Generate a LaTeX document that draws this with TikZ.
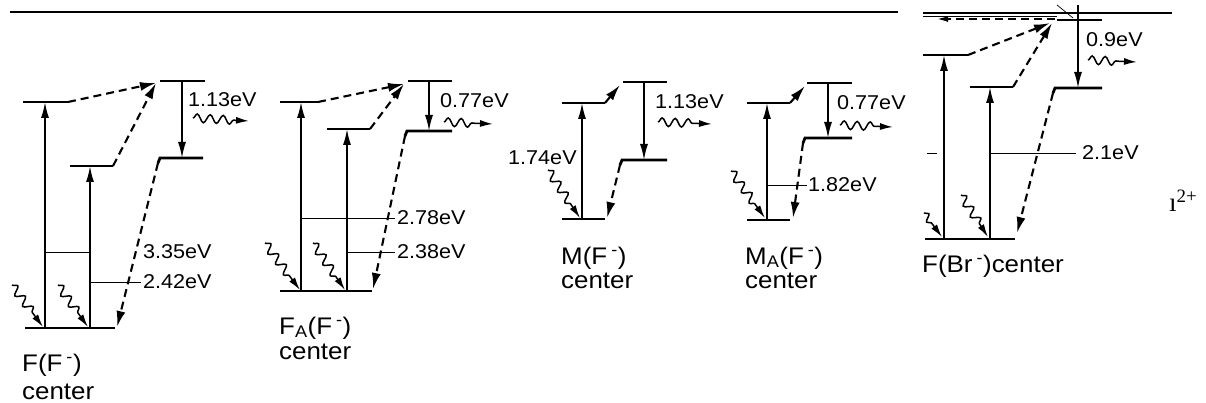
\documentclass[tikz,border=0pt]{standalone}
\usepackage{fontspec}
\setmainfont{Liberation Sans}[FakeStretch=1.08]
\newfontfamily\seriffont{Liberation Serif}
\usetikzlibrary{arrows.meta,decorations.pathmorphing}
\begin{document}
\begin{tikzpicture}[x=1pt,y=-1pt,
 level/.style={line width=2.8pt},
 uparrow/.style={line width=1.6pt,-{Latex[length=16pt,width=8pt]}},
 dasharrow/.style={line width=2.1pt,dash pattern=on 8pt off 5pt,-{Latex[length=16pt,width=9pt]}},
 photon/.style={line width=1.5pt,-{Latex[length=13pt,width=7pt]},decorate,
   decoration={snake,amplitude=4.2pt,segment length=13pt,post length=15pt}},
 leader/.style={line width=0.7pt},
 toprule/.style={line width=1.4pt},
 ev/.style={font=\fontsize{20}{23}\selectfont,inner sep=0pt,anchor=west},
 cname/.style={font=\fontsize{24}{27}\selectfont,inner sep=0pt,anchor=west},
]
\useasboundingbox (0,0) rectangle (1206,403);

% ---------- top rules ----------
\coordinate (r1a) at (10,12);   \coordinate (r1b) at (898,12);
\coordinate (r2a) at (923,13);  \coordinate (r2b) at (1172,13);
\coordinate (r3a) at (923,16);  \coordinate (r3b) at (1057,16);
\draw[toprule] (r1a) -- (r1b);
\draw[toprule] (r2a) -- (r2b);
\draw[leader] (r3a) -- (r3b);

% ---------- diagram 1: F(F-) ----------
\coordinate (aU1) at (23,102);  \coordinate (aU2) at (68,102);
\coordinate (aM1) at (70,166);  \coordinate (aM2) at (113,166);
\coordinate (aT1) at (160,81);  \coordinate (aT2) at (205,81);
\coordinate (aL1) at (160,158); \coordinate (aL2) at (203,158); \coordinate (aLk) at (158,163);
\coordinate (aB1) at (25,328);  \coordinate (aB2) at (115,328);
\coordinate (aTip) at (156,83); \coordinate (aBtip) at (117,327);
\coordinate (aV1b) at (45,328); \coordinate (aV1t) at (45,102);
\coordinate (aV2b) at (90,328); \coordinate (aV2t) at (90,166);
\coordinate (aDt) at (182,81);  \coordinate (aDb) at (182,158);
\coordinate (aH1a) at (45,252); \coordinate (aH1b) at (90,252);
\coordinate (aH2a) at (90,282);
\coordinate (aP1a) at (12,285); \coordinate (aP1b) at (43,327);
\coordinate (aP2a) at (58,285); \coordinate (aP2b) at (88,327);
\coordinate (aEa) at (193,118); \coordinate (aEb) at (249,121);
\draw[level] (aU1) -- (aU2);
\draw[level] (aM1) -- (aM2);
\draw[level] (aT1) -- (aT2);
\draw[level] (aL2) -- (aL1) -- (aLk);
\draw[level] (aB1) -- (aB2);
\draw[dasharrow] (aU2) -- (aTip);
\draw[dasharrow] (aM2) -- (aTip);
\draw[dasharrow] (aLk) -- (aBtip);
\draw[uparrow] (aV1b) -- (aV1t);
\draw[uparrow] (aV2b) -- (aV2t);
\draw[uparrow] (aDt) -- (aDb);
\node[ev] (l335) at (143,252) {3.35eV};
\node[ev] (l242) at (143,282) {2.42eV};
\node[ev] (l113a) at (188,100) {1.13eV};
\draw[leader] (aH1a) -- (aH1b);
\draw[leader] (aH2a) -- ([xshift=-2pt]l242.west);
\draw[photon] (aP1a) -- (aP1b);
\draw[photon] (aP2a) -- (aP2b);
\draw[photon] (aEa) -- (aEb);
\node[cname] (nA) at (22,365) {F(F\,\textsuperscript{-})};
\node[cname] (cA) at (22,392) {center};

% ---------- diagram 2: FA(F-) ----------
\coordinate (bU1) at (280,102); \coordinate (bU2) at (318,102);
\coordinate (bM1) at (327,129); \coordinate (bM2) at (370,129);
\coordinate (bT1) at (408,81);  \coordinate (bT2) at (452,81);
\coordinate (bL1) at (407,131); \coordinate (bL2) at (452,131); \coordinate (bLk) at (405,136);
\coordinate (bB1) at (280,291); \coordinate (bB2) at (372,291);
\coordinate (bTip) at (404,84); \coordinate (bBtip) at (373,289);
\coordinate (bV1b) at (301,291); \coordinate (bV1t) at (301,102);
\coordinate (bV2b) at (347,291); \coordinate (bV2t) at (347,129);
\coordinate (bDt) at (429,81);   \coordinate (bDb) at (429,131);
\coordinate (bH1a) at (301,218);
\coordinate (bH2a) at (347,252);
\coordinate (bP1a) at (265,243); \coordinate (bP1b) at (300,290);
\coordinate (bP2a) at (313,243); \coordinate (bP2b) at (345,290);
\coordinate (bEa) at (444,122);  \coordinate (bEb) at (493,124);
\draw[level] (bU1) -- (bU2);
\draw[level] (bM1) -- (bM2);
\draw[level] (bT1) -- (bT2);
\draw[level] (bL2) -- (bL1) -- (bLk);
\draw[level] (bB1) -- (bB2);
\draw[dasharrow] (bU2) -- (bTip);
\draw[dasharrow] (bM2) -- (bTip);
\draw[dasharrow] (bLk) -- (bBtip);
\draw[uparrow] (bV1b) -- (bV1t);
\draw[uparrow] (bV2b) -- (bV2t);
\draw[uparrow] (bDt) -- (bDb);
\node[ev] (l278) at (397,218) {2.78eV};
\node[ev] (l238) at (397,252) {2.38eV};
\node[ev] (l077b) at (440,101) {0.77eV};
\draw[leader] (bH1a) -- ([xshift=-2pt]l278.west);
\draw[leader] (bH2a) -- ([xshift=-2pt]l238.west);
\draw[photon] (bP1a) -- (bP1b);
\draw[photon] (bP2a) -- (bP2b);
\draw[photon] (bEa) -- (bEb);
\node[cname] (nB) at (279,328) {F\textsubscript{A}(F\,\textsuperscript{-})};
\node[cname] (cB) at (279,352) {center};

% ---------- diagram 3: M(F-) ----------
\coordinate (cU1) at (562,103); \coordinate (cU2) at (605,103);
\coordinate (cT1) at (623,82);  \coordinate (cT2) at (667,82);
\coordinate (cL1) at (622,160); \coordinate (cL2) at (667,160); \coordinate (cLk) at (620,165);
\coordinate (cB1) at (562,219); \coordinate (cB2) at (605,219);
\coordinate (cTip) at (620,85); \coordinate (cBtip) at (607,218);
\coordinate (cVb) at (582,219); \coordinate (cVt) at (582,103);
\coordinate (cDt) at (644,82);  \coordinate (cDb) at (644,160);
\coordinate (cPa) at (548,170); \coordinate (cPb) at (580,218);
\coordinate (cEa) at (658,122); \coordinate (cEb) at (712,124);
\draw[level] (cU1) -- (cU2);
\draw[level] (cT1) -- (cT2);
\draw[level] (cL2) -- (cL1) -- (cLk);
\draw[level] (cB1) -- (cB2);
\draw[dasharrow] (cU2) -- (cTip);
\draw[dasharrow] (cLk) -- (cBtip);
\draw[uparrow] (cVb) -- (cVt);
\draw[uparrow] (cDt) -- (cDb);
\node[ev] (l174) at (508,158) {1.74eV};
\node[ev] (l113c) at (655,102) {1.13eV};
\draw[photon] (cPa) -- (cPb);
\draw[photon] (cEa) -- (cEb);
\node[cname] (nC) at (561,258) {M(F\,\textsuperscript{-})};
\node[cname] (cC) at (561,281) {center};

% ---------- diagram 4: MA(F-) ----------
\coordinate (dU1) at (747,103); \coordinate (dU2) at (790,103);
\coordinate (dT1) at (807,83);  \coordinate (dT2) at (852,83);
\coordinate (dL1) at (805,138); \coordinate (dL2) at (852,138); \coordinate (dLk) at (803,143);
\coordinate (dB1) at (747,220); \coordinate (dB2) at (790,220);
\coordinate (dTip) at (805,86); \coordinate (dBtip) at (793,218);
\coordinate (dVb) at (767,220); \coordinate (dVt) at (767,103);
\coordinate (dDt) at (828,83);  \coordinate (dDb) at (828,138);
\coordinate (dHa) at (767,185);
\coordinate (dPa) at (731,171); \coordinate (dPb) at (765,218);
\coordinate (dEa) at (840,125); \coordinate (dEb) at (893,127);
\draw[level] (dU1) -- (dU2);
\draw[level] (dT1) -- (dT2);
\draw[level] (dL2) -- (dL1) -- (dLk);
\draw[level] (dB1) -- (dB2);
\draw[dasharrow] (dU2) -- (dTip);
\draw[dasharrow] (dLk) -- (dBtip);
\draw[uparrow] (dVb) -- (dVt);
\draw[uparrow] (dDt) -- (dDb);
\node[ev] (l182) at (808,185) {1.82eV};
\node[ev] (l077d) at (837,103) {0.77eV};
\draw[leader] (dHa) -- ([xshift=-1pt]l182.west);
\draw[photon] (dPa) -- (dPb);
\draw[photon] (dEa) -- (dEb);
\node[cname] (nD) at (745,258) {M\textsubscript{A}(F\,\textsuperscript{-})};
\node[cname] (cD) at (745,281) {center};

% ---------- diagram 5: F(Br-) ----------
\coordinate (eT1) at (1057,20);  \coordinate (eT2) at (1102,20);
\coordinate (eU1) at (923,55);   \coordinate (eU2) at (968,55);
\coordinate (eM1) at (970,87);   \coordinate (eM2) at (1013,87);
\coordinate (eL1) at (1055,88);  \coordinate (eL2) at (1102,88); \coordinate (eLk) at (1053,93);
\coordinate (eB1) at (925,239);  \coordinate (eB2) at (1015,239);
\coordinate (eTipA) at (1050,23); \coordinate (eTipB) at (1052,23);
\coordinate (eBtip) at (1017,233);
\coordinate (eV1b) at (944,239); \coordinate (eV1t) at (944,55);
\coordinate (eV2b) at (990,239); \coordinate (eV2t) at (990,87);
\coordinate (eDt) at (1078,5);   \coordinate (eDb) at (1078,88);
\coordinate (eHa) at (990,153);
\coordinate (eSa) at (927,153);  \coordinate (eSb) at (937,153);
\coordinate (eXa) at (1057,5);   \coordinate (eXb) at (1073,18);
\coordinate (eRa) at (1055,19);  \coordinate (eRb) at (936,19);
\coordinate (eP1a) at (924,213); \coordinate (eP1b) at (942,237);
\coordinate (eP2a) at (961,195); \coordinate (eP2b) at (988,237);
\coordinate (eEa) at (1088,60);  \coordinate (eEb) at (1137,62);
\draw[level] (eT1) -- (eT2);
\draw[level] (eU1) -- (eU2);
\draw[level] (eM1) -- (eM2);
\draw[level] (eL2) -- (eL1) -- (eLk);
\draw[level] (eB1) -- (eB2);
\draw[dasharrow] (eU2) -- (eTipA);
\draw[dasharrow] (eM2) -- (eTipB);
\draw[dasharrow] (eLk) -- (eBtip);
\draw[dasharrow,-{Latex[length=12pt,width=6pt]}] (eRa) -- (eRb);
\draw[uparrow] (eV1b) -- (eV1t);
\draw[uparrow] (eV2b) -- (eV2t);
\draw[uparrow] (eDt) -- (eDb);
\draw[leader] (eXa) -- (eXb);
\draw[leader] (eSa) -- (eSb);
\node[ev] (l21) at (1082,153) {2.1eV};
\node[ev] (l09) at (1086,40) {0.9eV};
\draw[leader] (eHa) -- ([xshift=-6pt]l21.west);
\draw[photon,decoration={snake,amplitude=3.5pt,segment length=11pt,post length=13pt}] (eP1a) -- (eP1b);
\draw[photon] (eP2a) -- (eP2b);
\draw[photon] (eEa) -- (eEb);
\node[cname] (nE) at (922,266) {F(Br\,\textsuperscript{-})center};
\node[font=\seriffont\fontsize{27}{30}\selectfont,inner sep=0pt,anchor=base west] (ion) at (1169,212) {ı\textsuperscript{2+}};
\end{tikzpicture}
\end{document}
